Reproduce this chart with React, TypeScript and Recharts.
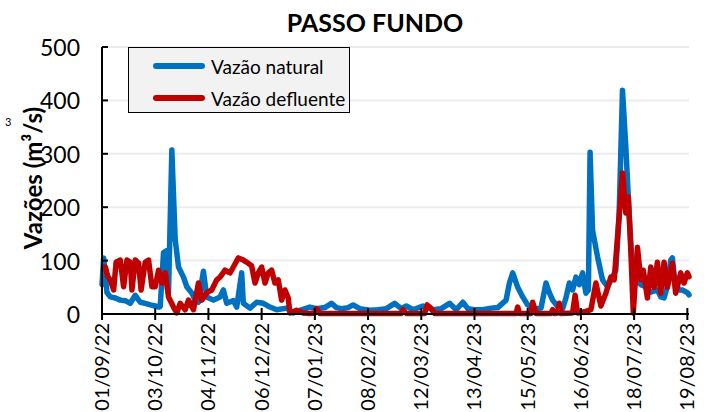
import React from "react";
import { LineChart, Line, XAxis, YAxis, CartesianGrid } from "recharts";

// dia (desde 01/09/22), vazão m³/s
const vazaoNatural: [number, number][] = [
  [0, 55], [1, 105], [3, 40], [5, 32], [8, 30], [11, 26], [14, 25], [17, 20], [20, 35], [23, 22],
  [26, 20], [29, 17], [32, 15], [34, 13], [35, 14], [37, 115], [38.5, 118], [40, 40], [42, 307], [44, 140],
  [46, 88], [49, 69], [51, 51], [54, 39], [56, 26], [58, 22], [61, 80], [63, 32], [67, 26], [71, 32],
  [73, 45], [75, 20], [79, 25], [81, 13], [84, 77], [85, 20], [89, 11], [93, 22], [97, 20], [101, 13],
  [105, 8], [111, 11], [115, 2], [119, 7], [125, 13], [129, 10], [134, 12], [138, 20], [141, 12], [144, 10],
  [148, 12], [151, 17], [155, 10], [161, 7], [166, 8], [171, 10], [176, 20], [180, 10], [183, 15], [187, 8],
  [193, 15], [199, 8], [204, 10], [209, 20], [213, 8], [217, 22], [220, 10], [224, 8], [229, 8], [234, 11],
  [238, 12], [243, 26], [245, 58], [247, 77], [250, 50], [253, 32], [256, 17], [260, 10], [264, 11], [267, 58],
  [269, 40], [271, 26], [274, 14], [277, 10], [279, 30], [281, 58], [283, 45], [285, 69], [287, 55], [289, 77],
  [291, 39], [292.5, 45], [293.5, 303], [295, 157], [298, 107], [301, 64], [304, 51], [307, 69], [309, 82], [311, 189],
  [313, 419], [315, 313], [317, 189], [319, 80], [321, 64], [324, 55], [327, 51], [330, 41], [334, 45], [336, 32],
  [338, 30], [340, 51], [342, 101], [343, 105], [344.5, 60], [347, 45], [349, 45], [352, 40], [353, 36],
];

const vazaoDefluente: [number, number][] = [
  [2, 88], [3.5, 70], [5, 64], [7, 45], [8.5, 97], [11, 101], [13, 51], [15, 101], [17, 97], [18, 45],
  [20, 101], [22, 95], [23.5, 45], [26, 97], [28, 101], [30, 51], [32, 51], [34, 82], [36, 58], [38, 77],
  [40, 32], [43, 13], [45, 2], [47, 20], [50, 8], [52, 26], [55, 8], [58, 58], [60, 26], [63, 40],
  [66, 45], [69, 64], [71, 69], [74, 82], [77, 77], [79, 88], [82, 105], [85, 101], [88, 95], [90, 90],
  [92, 58], [94, 77], [96, 88], [98, 58], [100, 77], [102, 82], [104, 58], [106, 64], [108, 26], [110, 45],
  [112, 30], [113, 2], [117, 7], [121, 2], [125, 1], [128, 2], [129, 10], [131, 1], [180, 1], [181, 8],
  [183, 1], [194, 1], [195.5, 17], [198, 10], [200, 1], [249, 1], [250, 13], [251, 1], [258, 1], [259, 22],
  [261, 1], [270, 1], [271, 8], [272, 1], [274, 2], [275, 20], [276, 1], [283, 2], [284.5, 35], [286, 2],
  [291, 5], [294, 8], [297, 58], [300, 15], [303, 39], [306, 69], [308, 64], [311, 182], [313, 264], [315, 189],
  [316.5, 219], [318, 120], [319.5, 2], [322, 125], [324, 64], [325.5, 82], [328, 30], [330, 88], [332, 50], [334, 97],
  [336, 39], [338, 97], [340, 50], [343, 95], [345, 39], [348, 77], [350, 58], [352, 77], [353, 70],
];

const tickDias = [0, 32, 64, 96, 128, 160, 192, 224, 256, 288, 320, 352];
const tickDatas = [
  "01/09/22", "03/10/22", "04/11/22", "06/12/22", "07/01/23", "08/02/23",
  "12/03/23", "13/04/23", "15/05/23", "16/06/23", "18/07/23", "19/08/23",
];
const yTicks = [0, 100, 200, 300, 400, 500];

const FONT = "Lato, 'Open Sans', sans-serif";
const AZUL = "#0070C0";
const VERMELHO = "#C00000";

const toRows = (s: [number, number][]) => s.map(([d, v]) => ({ d, v }));

function XTick(props: any) {
  const { x, y, index } = props;
  return (
    <g transform={`translate(${x},${y})`}>
      <line x1={0} x2={0} y1={-6} y2={6} stroke="#000" strokeWidth={2} />
      <text
        x={-9}
        y={0}
        dy={7}
        textAnchor="end"
        transform="rotate(-90)"
        fontSize={20}
        fontFamily={FONT}
        fill="#000"
      >
        {tickDatas[index]}
      </text>
    </g>
  );
}

function YTick(props: any) {
  const { x, y, payload } = props;
  return (
    <g>
      <line x1={x} x2={x + 6} y1={y} y2={y} stroke="#000" strokeWidth={2} />
      <text x={x - 22} y={y} dy={9} textAnchor="end" fontSize={23} fontFamily={FONT} fill="#000">
        {payload.value}
      </text>
    </g>
  );
}

export default function App() {
  return (
    <div style={{ position: "absolute", left: 0, top: 0, width: 717, height: 412, background: "#fff" }}>
      <LineChart width={717} height={412} margin={{ top: 47, right: 28, bottom: 0, left: 0 }}>
        <CartesianGrid vertical={false} stroke="#ececec" strokeWidth={2} />
        <XAxis
          dataKey="d"
          type="number"
          domain={[0, 353]}
          ticks={tickDias}
          interval={0}
          height={98}
          tickSize={0}
          tickMargin={0}
          tickLine={false}
          axisLine={{ stroke: "#000", strokeWidth: 2 }}
          tick={<XTick />}
          allowDuplicatedCategory={false}
        />
        <YAxis
          domain={[0, 500]}
          ticks={yTicks}
          width={102}
          tickSize={0}
          tickMargin={0}
          tickLine={false}
          axisLine={{ stroke: "#000", strokeWidth: 2 }}
          tick={<YTick />}
          label={() => (
            <g>
              <text
                x={32}
                y={178}
                transform="rotate(-90, 32, 178)"
                textAnchor="middle"
                dominantBaseline="central"
                fontSize={24}
                fontWeight="bold"
                fontFamily={FONT}
                fill="#000"
              >
                Vazões (m³/s)
              </text>
              <text x={5} y={126} fontSize={11} fontFamily={FONT} fill="#000">
                3
              </text>
            </g>
          )}
        />
        <Line
          data={toRows(vazaoNatural)}
          dataKey="v"
          type="linear"
          stroke={AZUL}
          strokeWidth={5.5}
          strokeLinejoin="round"
          strokeLinecap="round"
          dot={false}
          isAnimationActive={false}
        />
        <Line
          data={toRows(vazaoDefluente)}
          dataKey="v"
          type="linear"
          stroke={VERMELHO}
          strokeWidth={5.5}
          strokeLinejoin="round"
          strokeLinecap="round"
          dot={false}
          isAnimationActive={false}
        />
      </LineChart>
      <div
        style={{
          position: "absolute",
          left: 0,
          top: 6,
          width: 750,
          textAlign: "center",
          fontFamily: FONT,
          fontWeight: "bold",
          fontSize: 25,
          lineHeight: "32px",
          color: "#000",
        }}
      >
        PASSO FUNDO
      </div>
      <div
        style={{
          position: "absolute",
          left: 128,
          top: 47,
          width: 220,
          height: 64,
          border: "1.5px solid #000",
          background: "#f2f2f2",
          fontFamily: FONT,
          fontSize: 19,
          color: "#000",
        }}
      >
        {[
          { nome: "Vazão natural", cor: AZUL, top: 6 },
          { nome: "Vazão defluente", cor: VERMELHO, top: 38 },
        ].map((it) => (
          <div key={it.nome} style={{ position: "absolute", left: 24, top: it.top, display: "flex", alignItems: "center", height: 24 }}>
            <span style={{ display: "inline-block", width: 52, height: 6, borderRadius: 3, background: it.cor, marginRight: 6 }} />
            <span>{it.nome}</span>
          </div>
        ))}
      </div>
    </div>
  );
}
